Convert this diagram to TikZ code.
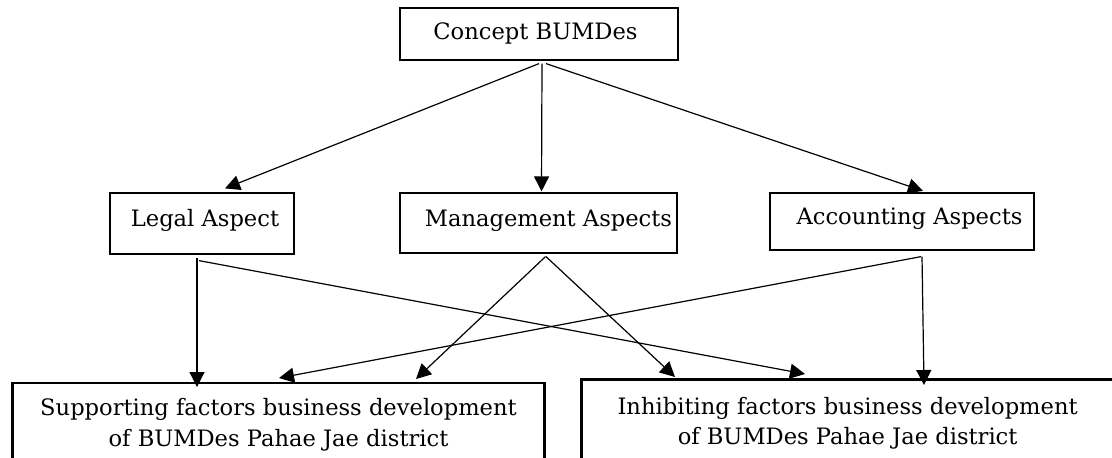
\documentclass[tikz,border=0pt]{standalone}
\usepackage{fontspec}
\setmainfont{DejaVu Serif}
\usetikzlibrary{arrows.meta}

\begin{document}
\begin{tikzpicture}[x=0.5pt, y=-0.5pt,
    aspect/.style ={draw, line width=0.6pt, inner sep=0pt, font=\fontsize{11.3}{14}\selectfont, text height=8.6pt, text depth=5.3pt},
    factor/.style ={draw, line width=1.25pt, anchor=north, align=center, inner xsep=0pt, minimum width=266pt, font=\fontsize{11.3}{15.2}\selectfont},
    link/.style ={line width=0.6pt, -{Triangle[length=7.5pt, width=7.5pt]}}]
   \useasboundingbox (0,0) rectangle (1112,457);
   \clip (0,0) rectangle (1112,457);
   \node[aspect, minimum width=139pt, minimum height=26pt, text depth=2.7pt] (C) at (539,34) {Concept BUMDes\hspace*{3.5pt}};
   \node[aspect, minimum width=92pt, minimum height=30.5pt] (L) at (202,223.5) {\hspace*{3pt}Legal Aspect};
   \node[aspect, minimum width=138.5pt, minimum height=30pt] (M) at (538.5,223) {\hspace*{10pt}Management Aspects};
   \node[aspect, minimum width=132pt, minimum height=28.5pt] (A) at (902,221.5) {\hspace*{7.5pt}Accounting Aspects};
   \node[factor, inner ysep=7.9pt] (S) at (278.5,381.5) {Supporting factors business development\\of BUMDes Pahae Jae district};
   \node[factor, inner ysep=9pt] (I) at (847.6,378) {Inhibiting factors business development\\of BUMDes Pahae Jae district};

   \draw[link] ([shift={(0,3)}]C.south) to ([shift={(23,-4)}]L.north);
   \draw[link] ([shift={(3,3)}]C.south) to ([shift={(3,-1)}]M.north);
   \draw[link] ([shift={(7,3)}]C.south) to ([shift={(21,-1.5)}]A.north);
   \draw[link] ([shift={(-5,3)}]L.south) to ([shift={(-81.5,5.5)}]S.north);
   \draw[link] ([shift={(-3,6)}]L.south) to ([shift={(-42.6,-4)}]I.north);
   \draw[link] ([shift={(7,3)}]M.south) to ([shift={(137.5,-2.5)}]S.north);
   \draw[link] ([shift={(7.5,3)}]M.south) to ([shift={(-172.6,-1)}]I.north);
   \draw[link] ([shift={(19,6)}]A.south) to ([shift={(0.5,-3.5)}]S.north);
   \draw[link] ([shift={(20,6)}]A.south) to ([shift={(76.4,7)}]I.north);
 \end{tikzpicture}
\end{document}
